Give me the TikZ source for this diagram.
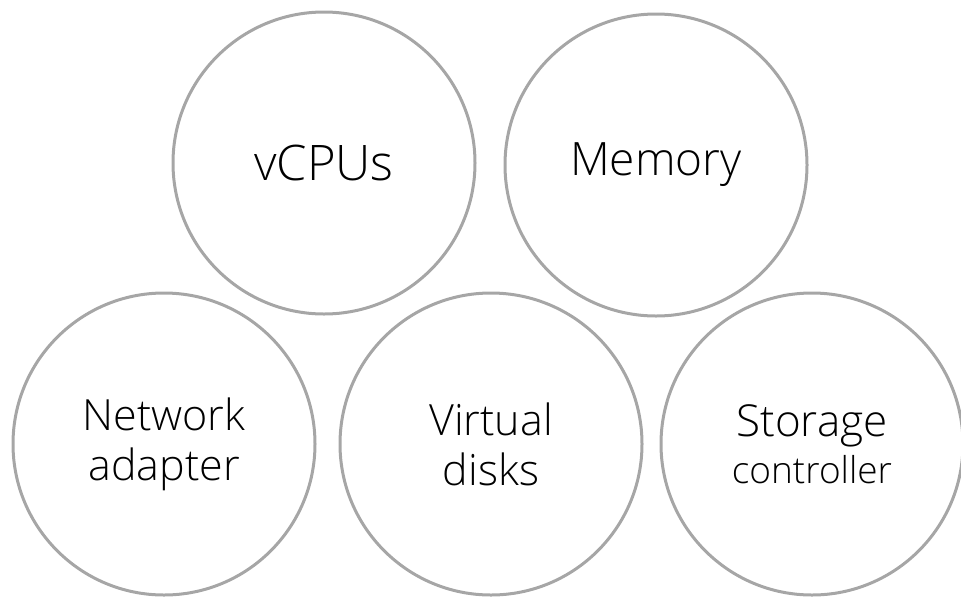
\documentclass[tikz,border=0pt]{standalone}
\usepackage{fontspec}
\setmainfont{Open Sans}[UprightFont=* Light]
\usetikzlibrary{positioning}
\definecolor{ringgray}{RGB}{166,166,166}

\begin{document}
\begin{tikzpicture}[x=1pt,y=-1pt,
      c/.style={draw=ringgray,line width=3pt,circle,minimum size=302pt,inner sep=0pt,align=center},
      big/.style={font=\fontsize{46}{52}\selectfont},
      mid/.style={font=\fontsize{43}{50}\selectfont}]
      \useasboundingbox (0,0) rectangle (961,598);
      \node[c,big] (vcpu) at (324,163) {\fontsize{49}{52}\selectfont vCPUs};
      \node[c,big] (mem) at (656,165) {Memory};
      \node[c,mid] (net) at (164,444) {Network\\adapter};
      \node[c,mid] (vdisk) at (491,444) {Virtual\\disks};
      \node[c,mid] (stor) at (812,444) {{\fontsize{44}{50}\selectfont Storage}\\[-3pt]{\fontsize{37}{44}\selectfont controller}};
    \end{tikzpicture}
\end{document}
